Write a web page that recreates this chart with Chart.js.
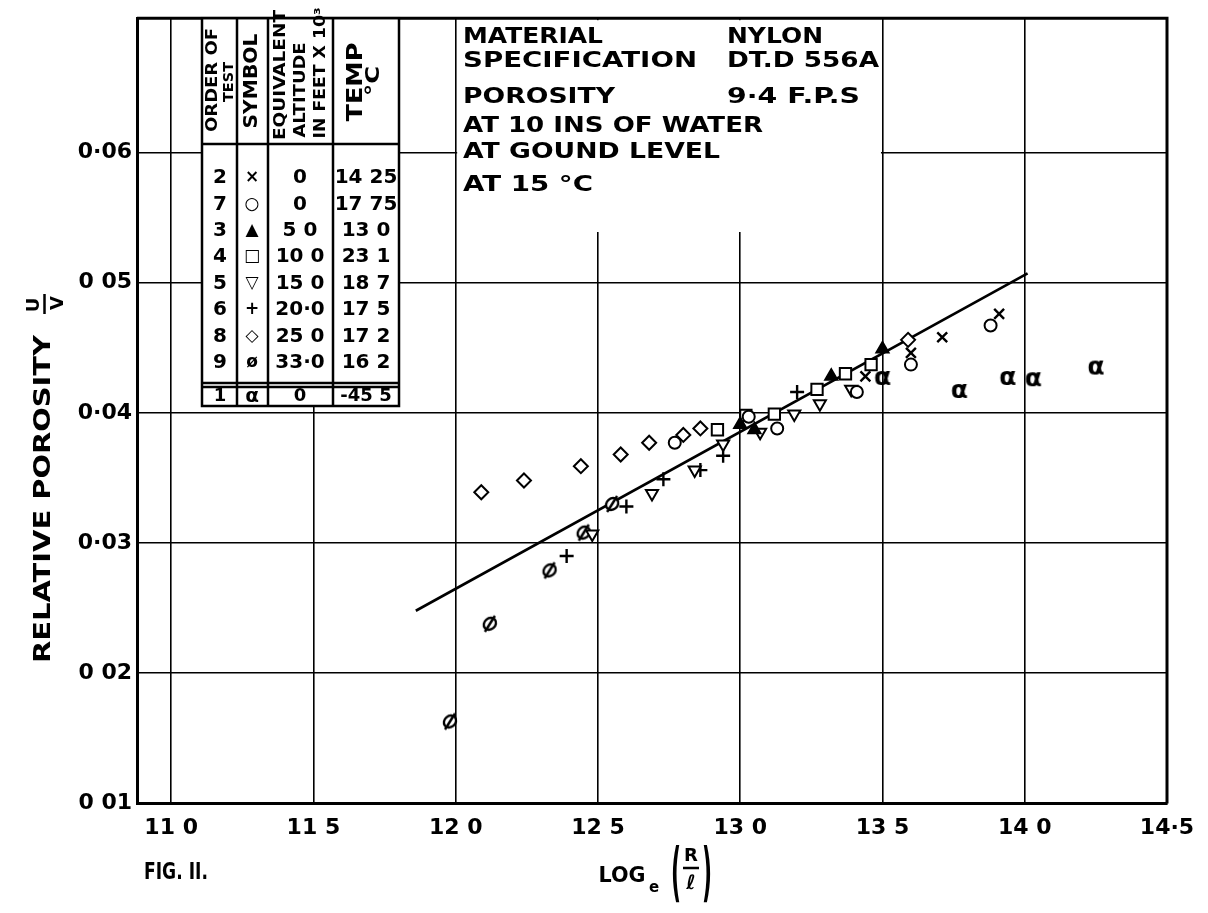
<!DOCTYPE html>
<html>
<head>
  <title>index</title>
  <script src="https://cdn.jsdelivr.net/npm/chart.js"></script>
  <style>
    body { margin: 0; background: #fff; }
    #wrap { width: 1208px; height: 913px; }
  </style>
</head>
<body>
  <div id="wrap"><canvas id="chart"></canvas></div>

  <script>
    // axes: x = log_e(R/l), y = relative porosity U/V
    const xTicks = [11.0, 11.5, 12.0, 12.5, 13.0, 13.5, 14.0, 14.5];
    const xTickLabels = ['11 0', '11 5', '12 0', '12 5', '13 0', '13 5', '14 0', '14·5'];
    const yTicks = [0.01, 0.02, 0.03, 0.04, 0.05, 0.06];
    const yTickLabels = ['0 01', '0 02', '0·03', '0·04', '0 05', '0·06'];

    // readings per test, [log_e(R/l), U/V]
    const test1 = [[13.50, 0.0426], [13.77, 0.0416], [13.94, 0.0426], [14.03, 0.0425], [14.25, 0.0434]];
    const test2 = [[13.44, 0.0428], [13.60, 0.0446], [13.71, 0.0458], [13.91, 0.0476]];
    const test3 = [[13.00, 0.0391], [13.05, 0.0387], [13.32, 0.0428], [13.50, 0.0449]];
    const test4 = [[12.92, 0.0387], [13.02, 0.0398], [13.12, 0.0399], [13.27, 0.0418], [13.37, 0.0430], [13.46, 0.0437]];
    const test5 = [[12.48, 0.0307], [12.69, 0.0338], [12.84, 0.0356], [12.94, 0.0376], [13.07, 0.0385], [13.19, 0.0399], [13.28, 0.0407], [13.39, 0.0418]];
    const test6 = [[12.39, 0.0290], [12.60, 0.0328], [12.73, 0.0349], [12.86, 0.0356], [12.94, 0.0367], [13.20, 0.0416]];
    const test7 = [[12.77, 0.0377], [13.03, 0.0397], [13.13, 0.0388], [13.41, 0.0416], [13.60, 0.0437], [13.88, 0.0467]];
    const test8 = [[12.09, 0.0339], [12.24, 0.0348], [12.44, 0.0359], [12.58, 0.0368], [12.68, 0.0377], [12.80, 0.0383], [12.86, 0.0388], [13.59, 0.0456]];
    const test9 = [[11.98, 0.0163], [12.12, 0.0238], [12.33, 0.0279], [12.45, 0.0308], [12.55, 0.0330]];
    const fitLine = [[11.86, 0.0248], [14.01, 0.0507]];

    // key table: order of test, symbol, altitude (ft x 10^3), temp
    const keyRows = [
      ['2', '×', '0', '14 25'],
      ['7', '○', '0', '17 75'],
      ['3', '▲', '5 0', '13 0'],
      ['4', '□', '10 0', '23 1'],
      ['5', '▽', '15 0', '18 7'],
      ['6', '+', '20·0', '17 5'],
      ['8', '◇', '25 0', '17 2'],
      ['9', 'ø', '33·0', '16 2']
    ];
    const keyLastRow = ['1', 'α', '0', '-45 5'];
    const noteLines = [
      ['MATERIAL', 'NYLON'],
      ['SPECIFICATION', 'DT.D 556A'],
      ['POROSITY', '9·4 F.P.S'],
      ['AT 10 INS OF WATER', ''],
      ['AT GOUND LEVEL', ''],
      ['AT 15 °C', '']
    ];

    const FONT = '"DejaVu Sans"';
    const toXY = arr => arr.map(([x, y]) => ({ x, y }));

    function symbolCanvas(size, draw) {
      const c = document.createElement('canvas');
      c.width = size; c.height = size;
      const g = c.getContext('2d');
      g.strokeStyle = '#000'; g.fillStyle = '#000'; g.lineWidth = 2;
      draw(g);
      return c;
    }
    const phiSymbol = symbolCanvas(22, g => {
      g.beginPath(); g.ellipse(11, 11, 6.5, 5.5, -0.7, 0, Math.PI * 2);
      g.fillStyle = '#fff'; g.fill(); g.lineWidth = 2.4; g.stroke();
      g.beginPath(); g.moveTo(6, 19); g.lineTo(16, 3); g.stroke();
    });
    const alphaSymbol = symbolCanvas(28, g => {
      g.font = 'bold 25px ' + FONT;
      g.textAlign = 'center'; g.textBaseline = 'middle';
      g.fillText('α', 14, 13);
    });

    function pts(data, style, extra) {
      return Object.assign({
        data: toXY(data),
        pointStyle: style,
        pointRadius: 6,
        pointBorderWidth: 2,
        borderColor: '#000',
        backgroundColor: '#fff',
        order: 0
      }, extra || {});
    }

    // fits text to a given length, optionally rotated
    function fitText(ctx, text, cx, cy, len, size, rot) {
      ctx.save();
      ctx.translate(cx, cy);
      if (rot) ctx.rotate(rot);
      ctx.font = 'bold ' + size + 'px ' + FONT;
      const w = ctx.measureText(text).width;
      if (len) ctx.scale(len / w, 1);
      ctx.fillStyle = '#000';
      ctx.textAlign = 'center';
      ctx.textBaseline = 'alphabetic';
      ctx.fillText(text, 0, size * 0.36);
      ctx.restore();
    }

    const paper = {
      id: 'paper',
      beforeDatasetsDraw(chart) {
        const ctx = chart.ctx;
        const a = chart.chartArea;
        const xs = chart.scales.x;
        ctx.save();
        ctx.strokeStyle = '#000';
        // frame top and right
        ctx.lineWidth = 3;
        ctx.beginPath();
        ctx.moveTo(a.left, a.top); ctx.lineTo(a.right, a.top); ctx.lineTo(a.right, a.bottom);
        ctx.stroke();

        // notes box
        const bl = xs.getPixelForValue(12.0), br = xs.getPixelForValue(13.5);
        ctx.fillStyle = '#fff';
        ctx.fillRect(bl + 1.5, a.top + 2, br - bl - 3, 230 - a.top);
        const noteY = [35, 59, 95, 124, 150, 183];
        const noteW = [140, 234, 152, 300, 257, 130];
        const noteW2 = [96, 152, 133];
        noteLines.forEach((ln, i) => {
          fitText(ctx, ln[0], 463 + noteW[i] / 2, noteY[i], noteW[i], 21);
          if (ln[1]) fitText(ctx, ln[1], 727 + noteW2[i] / 2, noteY[i], noteW2[i], 21);
        });

        // key table
        const L = 202, R = 399, T = a.top, H = 144, B1 = 383, B2 = 387, B = 406;
        const cols = [237, 268, 333];
        ctx.fillStyle = '#fff';
        ctx.fillRect(L, T, R - L, B - T);
        ctx.lineWidth = 2.5;
        ctx.strokeRect(L, T, R - L, B - T);
        ctx.beginPath();
        cols.forEach(c => { ctx.moveTo(c, T); ctx.lineTo(c, B); });
        [H, B1, B2].forEach(y => { ctx.moveTo(L, y); ctx.lineTo(R, y); });
        ctx.stroke();

        const up = -Math.PI / 2;
        fitText(ctx, 'ORDER OF', 211, 80, 104, 16, up);
        fitText(ctx, 'TEST', 228, 82, 40, 14, up);
        fitText(ctx, 'SYMBOL', 250, 81, 95, 19, up);
        fitText(ctx, 'EQUIVALENT', 279, 75, 130, 16, up);
        fitText(ctx, 'ALTITUDE', 299, 90, 95, 16, up);
        fitText(ctx, 'IN FEET X 10³', 319, 73, 131, 16, up);
        fitText(ctx, 'TEMP', 354, 82, 79, 21, up);
        fitText(ctx, '°C', 372, 81, 30, 19, up);

        const colX = [220, 252, 300, 366];
        keyRows.forEach((row, i) => {
          const y = 176 + i * 26.4;
          row.forEach((t, j) => fitText(ctx, t, colX[j], y, 0, j === 1 ? 17 : 20));
        });
        keyLastRow.forEach((t, j) => fitText(ctx, t, colX[j], 395, 0, j === 1 ? 20 : 18));
        ctx.restore();
      },
      afterDraw(chart) {
        const ctx = chart.ctx;
        ctx.save();
        // y title
        fitText(ctx, 'RELATIVE POROSITY', 42, 499, 328, 23, -Math.PI / 2);
        fitText(ctx, 'U', 33, 305, 0, 18, -Math.PI / 2);
        fitText(ctx, 'V', 57, 303, 0, 18, -Math.PI / 2);
        ctx.lineWidth = 2.5;
        ctx.beginPath(); ctx.moveTo(44.5, 294); ctx.lineTo(44.5, 314); ctx.stroke();
        // x title
        fitText(ctx, 'LOG', 622, 874, 47, 21);
        fitText(ctx, 'e', 654, 887, 0, 15);
        fitText(ctx, '(', 676, 871, 10, 64);
        fitText(ctx, ')', 707, 871, 10, 64);
        fitText(ctx, 'R', 691, 855, 0, 18);
        fitText(ctx, 'ℓ', 691, 882, 0, 20);
        ctx.beginPath(); ctx.moveTo(683, 868); ctx.lineTo(699, 868); ctx.stroke();
        // figure number
        fitText(ctx, 'FIG. II.', 176, 871, 64, 23);
        ctx.restore();
      }
    };

    new Chart(document.getElementById('chart'), {
      type: 'scatter',
      data: {
        datasets: [
          pts(test2, 'crossRot', { pointRadius: 7, pointBorderWidth: 2.4 }),
          pts(test7, 'circle'),
          pts(test3, 'triangle', { backgroundColor: '#000', pointRadius: 7 }),
          pts(test4, 'rect', { pointRadius: 8 }),
          pts(test5, 'triangle', { rotation: 180, pointRadius: 7 }),
          pts(test6, 'cross', { pointRadius: 7, pointBorderWidth: 2.4 }),
          pts(test8, 'rectRot', { pointRadius: 7 }),
          pts(test9, phiSymbol),
          pts(test1, alphaSymbol),
          {
            data: toXY(fitLine),
            showLine: true,
            pointRadius: 0,
            borderColor: '#000',
            borderWidth: 2.6,
            order: 10
          }
        ]
      },
      options: {
        responsive: true,
        maintainAspectRatio: false,
        animation: false,
        layout: { padding: { left: 0, right: 41, top: 8, bottom: 0 } },
        plugins: { legend: { display: false }, tooltip: { enabled: false } },
        scales: {
          x: {
            type: 'linear',
            min: 10.88,
            max: 14.5,
            afterBuildTicks: s => { s.ticks = xTicks.map(v => ({ value: v })); },
            afterFit: s => { s.height = 109.5; },
            grid: { color: '#000', lineWidth: 1.6, drawTicks: false },
            border: { color: '#000', width: 3 },
            ticks: {
              autoSkip: false,
              maxRotation: 0,
              padding: 12,
              color: '#000',
              font: { family: FONT, size: 22, weight: 'bold' },
              callback: (v, i) => xTickLabels[i]
            }
          },
          y: {
            type: 'linear',
            min: 0.01,
            max: 0.0703,
            afterBuildTicks: s => { s.ticks = yTicks.map(v => ({ value: v })); },
            afterFit: s => { s.width = 137; },
            grid: { color: '#000', lineWidth: 1.6, drawTicks: false },
            border: { color: '#000', width: 3 },
            ticks: {
              autoSkip: false,
              padding: 5,
              color: '#000',
              font: { family: FONT, size: 22, weight: 'bold' },
              callback: (v, i) => yTickLabels[i]
            }
          }
        }
      },
      plugins: [paper]
    });
  </script>
</body>
</html>
